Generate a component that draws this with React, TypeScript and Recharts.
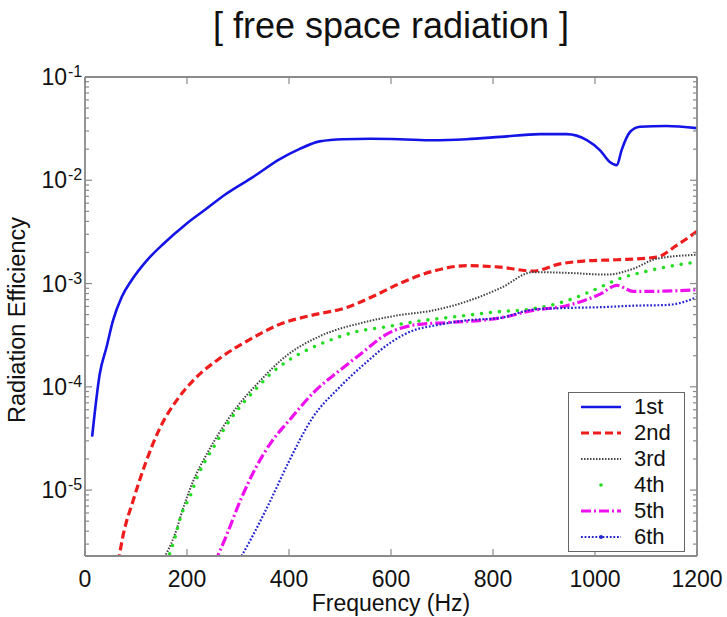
import React from 'react';
import { LineChart, Line, XAxis, YAxis, Legend } from 'recharts';

// values (Hz, radiation efficiency)
const freq1 = [14, 29, 42, 55, 72, 91, 121, 154, 199, 238, 277, 330, 382, 420, 460, 506, 560, 617, 683, 748, 814, 892, 944, 984, 1010, 1029, 1043, 1052, 1069, 1088, 1140, 1200];
const eff1 = [3.3e-5, 1.34e-4, 2.4e-4, 4.4e-4, 7.4e-4, 1.07e-3, 1.67e-3, 2.43e-3, 3.8e-3, 5.3e-3, 7.4e-3, 1.08e-2, 1.6e-2, 2.0e-2, 2.38e-2, 2.5e-2, 2.52e-2, 2.5e-2, 2.44e-2, 2.5e-2, 2.63e-2, 2.8e-2, 2.8e-2, 2.45e-2, 1.95e-2, 1.5e-2, 1.4e-2, 1.95e-2, 2.95e-2, 3.3e-2, 3.35e-2, 3.2e-2];

const freq2 = [65, 75, 94, 120, 147, 179, 212, 265, 330, 380, 446, 510, 562, 617, 683, 748, 814, 879, 931, 977, 1043, 1121, 1160, 1200];
const eff2 = [2.0e-6, 3.7e-6, 7.8e-6, 1.9e-5, 4.0e-5, 7.3e-5, 1.15e-4, 1.9e-4, 3.0e-4, 4.0e-4, 4.95e-4, 5.8e-4, 7.4e-4, 1.0e-3, 1.32e-3, 1.49e-3, 1.44e-3, 1.32e-3, 1.55e-3, 1.65e-3, 1.7e-3, 1.8e-3, 2.34e-3, 3.2e-3];

const freq3 = [150, 176, 193, 212, 238, 265, 297, 337, 395, 461, 546, 611, 683, 740, 814, 879, 944, 1023, 1075, 1121, 1200];
const eff3 = [2.0e-6, 3.7e-6, 6.8e-6, 1.22e-5, 2.2e-5, 3.7e-5, 6.3e-5, 1.06e-4, 2.0e-4, 3.1e-4, 4.2e-4, 4.9e-4, 5.5e-4, 6.5e-4, 9.0e-4, 1.29e-3, 1.27e-3, 1.22e-3, 1.39e-3, 1.74e-3, 1.9e-3];

const freq4 = [160, 176, 189, 206, 221, 238, 254, 270, 286, 303, 319, 335, 351, 367, 384, 400, 433, 478, 530, 589, 650, 715, 804, 879, 944, 1010, 1043, 1108, 1200];
const eff4 = [2.0e-6, 3.4e-6, 5.8e-6, 8.7e-6, 1.37e-5, 2.0e-5, 2.7e-5, 3.7e-5, 4.9e-5, 6.3e-5, 7.8e-5, 9.5e-5, 1.15e-4, 1.38e-4, 1.6e-4, 1.82e-4, 2.24e-4, 2.8e-4, 3.4e-4, 3.8e-4, 4.3e-4, 4.7e-4, 5.3e-4, 5.7e-4, 6.8e-4, 9.2e-4, 1.09e-3, 1.34e-3, 1.62e-3];

const freq5 = [255, 278, 304, 335, 367, 400, 450, 500, 540, 590, 650, 715, 814, 879, 944, 1010, 1043, 1075, 1108, 1200];
const eff5 = [2.0e-6, 3.7e-6, 7.8e-6, 1.65e-5, 3.0e-5, 4.7e-5, 9.0e-5, 1.45e-4, 2.07e-4, 3.2e-4, 4.0e-4, 4.2e-4, 4.65e-4, 5.5e-4, 6.1e-4, 7.9e-4, 9.6e-4, 8.4e-4, 8.4e-4, 8.7e-4];

const freq6 = [300, 330, 363, 400, 446, 500, 550, 600, 650, 683, 748, 814, 879, 944, 1010, 1075, 1140, 1173, 1200];
const eff6 = [2.0e-6, 3.7e-6, 7.8e-6, 1.9e-5, 5.0e-5, 1.0e-4, 1.7e-4, 2.7e-4, 3.6e-4, 3.9e-4, 4.4e-4, 4.65e-4, 5.6e-4, 5.8e-4, 5.9e-4, 6.1e-4, 6.2e-4, 6.6e-4, 7.4e-4];

const modeNames = ['1st', '2nd', '3rd', '4th', '5th', '6th'];
const xTicks = [0, 200, 400, 600, 800, 1000, 1200];
const yMajor = [1e-5, 1e-4, 1e-3, 1e-2, 1e-1];
const yMajorLabels = ['-5', '-4', '-3', '-2', '-1'];
const yMinor = [
  3e-6, 4e-6, 5e-6, 6e-6, 7e-6, 8e-6, 9e-6,
  2e-5, 3e-5, 4e-5, 5e-5, 6e-5, 7e-5, 8e-5, 9e-5,
  2e-4, 3e-4, 4e-4, 5e-4, 6e-4, 7e-4, 8e-4, 9e-4,
  2e-3, 3e-3, 4e-3, 5e-3, 6e-3, 7e-3, 8e-3, 9e-3,
  2e-2, 3e-2, 4e-2, 5e-2, 6e-2, 7e-2, 8e-2, 9e-2,
];
const yDomain = [2.3e-6, 0.1];

const toRows = (f: number[], v: number[]) => f.map((x, i) => ({ freq: x, eff: v[i] }));
const seriesData = [
  toRows(freq1, eff1),
  toRows(freq2, eff2),
  toRows(freq3, eff3),
  toRows(freq4, eff4),
  toRows(freq5, eff5),
  toRows(freq6, eff6),
];

const styles = [
  { color: '#1414e6', width: 2.6, dash: undefined, cap: 'butt' },
  { color: '#ee1c1c', width: 3.2, dash: '8 4', cap: 'butt' },
  { color: '#444444', width: 2, dash: '1.5 1.5', cap: 'butt' },
  { color: '#22dd22', width: 3.6, dash: '0 9', cap: 'round' },
  { color: '#ee10ee', width: 3.2, dash: '10 3 2 3', cap: 'butt' },
  { color: '#2424d0', width: 2.2, dash: '1.8 1.8', cap: 'butt' },
];

const FONT = '"Liberation Sans", Arial, sans-serif';
const AXIS = '#8a8a8a';

const allY = [...yMinor, ...yMajor].sort((a, b) => a - b);

const LeftTick = (props: any) => {
  const { x, y, payload } = props;
  const idx = yMajor.indexOf(payload.value);
  const len = idx >= 0 ? 7 : 4;
  return (
    <g>
      <line x1={x} x2={x + len} y1={y} y2={y} stroke={AXIS} strokeWidth={1.2} />
      {idx >= 0 && (
        <>
          <text x={x - 18} y={y + 8} textAnchor="end" fontSize={23} fontFamily={FONT} fill="#111">10</text>
          <text x={x - 17} y={y} textAnchor="start" fontSize={16} fontFamily={FONT} fill="#111">{yMajorLabels[idx]}</text>
        </>
      )}
    </g>
  );
};

const RightTick = (props: any) => {
  const { x, y, payload } = props;
  const len = yMajor.includes(payload.value) ? 7 : 4;
  return <line x1={x} x2={x - len} y1={y} y2={y} stroke={AXIS} strokeWidth={1.2} />;
};

const BottomTick = (props: any) => {
  const { x, y, payload } = props;
  return (
    <g>
      <line x1={x} x2={x} y1={y} y2={y - 7} stroke={AXIS} strokeWidth={1.2} />
      <text x={x} y={y + 31} textAnchor="middle" fontSize={23} fontFamily={FONT} fill="#111">{payload.value}</text>
    </g>
  );
};

const TopTick = (props: any) => {
  const { x, y } = props;
  return <line x1={x} x2={x} y1={y} y2={y + 7} stroke={AXIS} strokeWidth={1.2} />;
};

const LegendBox = () => (
  <div style={{ width: 117, height: 160, border: '1.5px solid #666', background: '#fff', boxSizing: 'border-box', paddingTop: 1, fontFamily: FONT, fontSize: 22, color: '#111' }}>
    {modeNames.map((name, i) => {
      const s = styles[i];
      return (
        <div key={name} style={{ height: 26, display: 'flex', alignItems: 'center' }}>
          <svg width={52} height={26} style={{ flex: 'none' }}>
            {i === 3 ? (
              <circle cx={32} cy={13} r={1.8} fill={s.color} />
            ) : (
              <line x1={12} x2={52} y1={13} y2={13} stroke={s.color} strokeWidth={s.width} strokeDasharray={s.dash} />
            )}
            {i === 5 && <circle cx={32} cy={13} r={2} fill={s.color} />}
          </svg>
          <span style={{ marginLeft: 13, lineHeight: '26px' }}>{name}</span>
        </div>
      );
    })}
  </div>
);

export default function App() {
  return (
    <div style={{ position: 'absolute', left: 0, top: 0, width: 727, height: 617, background: '#fff' }}>
      <LineChart width={727} height={617} margin={{ top: 76, right: 29, bottom: 60, left: 0 }}>
        <text x={391} y={38} textAnchor="middle" fontSize={36} fontFamily={FONT} fill="#111">[ free space radiation ]</text>
        <text x={25} y={320} transform="rotate(-90 25 320)" textAnchor="middle" fontSize={23.5} fontFamily={FONT} fill="#111">Radiation Efficiency</text>
        <text x={391} y={611} textAnchor="middle" fontSize={23} fontFamily={FONT} fill="#111">Frequency (Hz)</text>
        <XAxis xAxisId="bottom" dataKey="freq" type="number" domain={[0, 1200]} ticks={xTicks} interval={0}
          height={1} tickSize={0} tickMargin={0} tickLine={false} tick={<BottomTick />}
          axisLine={{ stroke: AXIS, strokeWidth: 1.8 }} allowDataOverflow />
        <XAxis xAxisId="top" orientation="top" dataKey="freq" type="number" domain={[0, 1200]} ticks={xTicks} interval={0}
          height={1} tickSize={0} tickMargin={0} tickLine={false} tick={<TopTick />}
          axisLine={{ stroke: AXIS, strokeWidth: 1.8 }} allowDataOverflow />
        <YAxis yAxisId="left" dataKey="eff" type="number" scale="log" domain={yDomain} ticks={allY} interval={0}
          width={85} tickSize={0} tickMargin={0} tickLine={false} tick={<LeftTick />}
          axisLine={{ stroke: AXIS, strokeWidth: 1.8 }} allowDataOverflow />
        <YAxis yAxisId="right" orientation="right" dataKey="eff" type="number" scale="log" domain={yDomain} ticks={allY} interval={0}
          width={1} tickSize={0} tickMargin={0} tickLine={false} tick={<RightTick />}
          axisLine={{ stroke: AXIS, strokeWidth: 1.8 }} allowDataOverflow />
        {seriesData.map((rows, i) => (
          <Line
            key={modeNames[i]}
            xAxisId="bottom"
            yAxisId="left"
            data={rows}
            dataKey="eff"
            name={modeNames[i]}
            type="monotone"
            stroke={styles[i].color}
            strokeWidth={styles[i].width}
            strokeDasharray={styles[i].dash}
            strokeLinecap={styles[i].cap as any}
            dot={false}
            activeDot={false}
            isAnimationActive={false}
          />
        ))}
        <Legend layout="vertical" align="center" verticalAlign="middle" content={<LegendBox />}
          wrapperStyle={{ position: 'absolute', left: 568, top: 392, width: 117, height: 160 }} />
      </LineChart>
    </div>
  );
}
